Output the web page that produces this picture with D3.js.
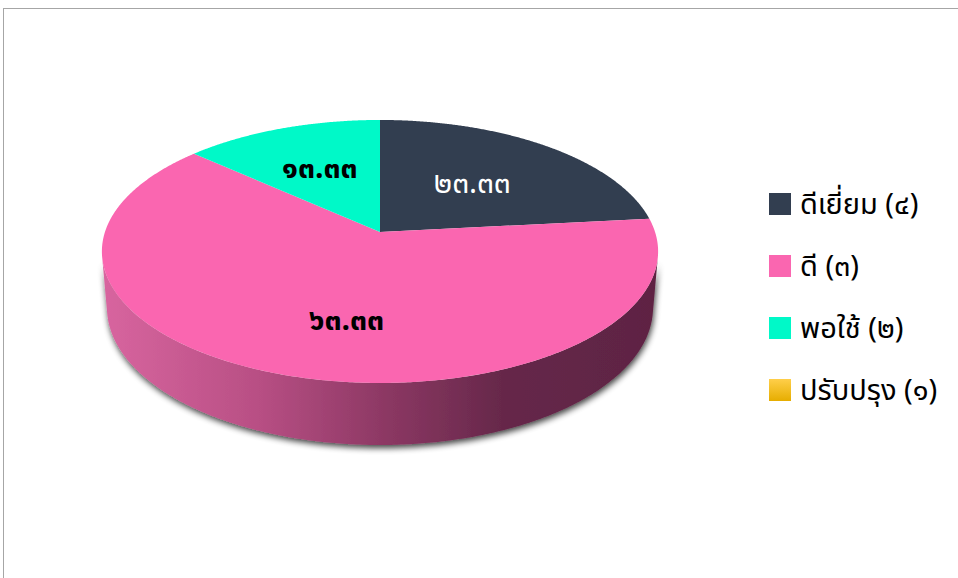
<!DOCTYPE html>
<html>
<head>
<meta charset="utf-8">
<script src="https://cdn.jsdelivr.net/npm/d3@7"></script>
<style>
  html, body { margin: 0; padding: 0; background: #ffffff; }
  svg { display: block; }
</style>
</head>
<body>
<div id="chart"></div>
<script>
// Rating categories (score in parentheses) and their share in percent
const categories = ["ดีเยี่ยม (๔)", "ดี (๓)", "พอใช้ (๒)", "ปรับปรุง (๑)"];
const values = [23.33, 63.33, 13.33, 0];
const colors = ["#323e50", "#fa66b0", "#00f9c8", "#ffc000"];
const labelColors = ["#ffffff", "#000000", "#000000", "#000000"];
const labelWeights = ["normal", "bold", "bold", "bold"];

const W = 958, H = 578;
const thaiDigits = "๐๑๒๓๔๕๖๗๘๙";
const toThai = s => s.replace(/[0-9]/g, d => thaiDigits[+d]);
const fmt = d3.format(".2f");
const FONT = "'Noto Sans Thai', 'Noto Sans', Tahoma, sans-serif";

const svg = d3.select("#chart").append("svg")
  .attr("width", W).attr("height", H);

// Chart frame
svg.append("rect")
  .attr("x", 3.5).attr("y", 8.5)
  .attr("width", W).attr("height", H)
  .attr("fill", "#ffffff")
  .attr("stroke", "#a6a6a6").attr("stroke-width", 1);

const defs = svg.append("defs");

// Perspective camera looking down at a unit-radius disc
const cam = { cx: 380, cy: 232, phi: Math.asin(0.4676), D: 5.97, f: 1642, h: 0.2334 };
const sinP = Math.sin(cam.phi), cosP = Math.cos(cam.phi);
function project(u, y, v) {
  const z = cam.D - y * sinP - v * cosP;
  return [cam.cx + cam.f * u / z, cam.cy + cam.f * (v * sinP - y * cosP) / z];
}
// angle measured clockwise from 12 o'clock; v grows toward the viewer
const rim = (a, r, y) => project(r * Math.sin(a), y, -r * Math.cos(a));

const pie = d3.pie().sort(null).value(d => d).startAngle(0).endAngle(2 * Math.PI);
const arcs = pie(values);
const line = d3.line();

function samples(a0, a1, step) {
  const n = Math.max(1, Math.ceil(Math.abs(a1 - a0) / step));
  return d3.range(n + 1).map(i => a0 + (a1 - a0) * i / n);
}

// Drop shadow under the cylinder wall
const sh = defs.append("filter").attr("id", "wallShadow")
  .attr("x", "-10%").attr("y", "-10%").attr("width", "120%").attr("height", "130%");
sh.append("feGaussianBlur").attr("in", "SourceAlpha").attr("stdDeviation", 3).attr("result", "b");
sh.append("feOffset").attr("in", "b").attr("dx", 1).attr("dy", 3).attr("result", "o");
sh.append("feComponentTransfer").attr("in", "o").attr("result", "s")
  .append("feFuncA").attr("type", "linear").attr("slope", 0.75);
const m = sh.append("feMerge");
m.append("feMergeNode").attr("in", "s");
m.append("feMergeNode").attr("in", "SourceGraphic");

// Shaded wall colour for the slice facing the viewer
const wallGrad = defs.append("linearGradient").attr("id", "wallGrad")
  .attr("gradientUnits", "userSpaceOnUse")
  .attr("x1", 103).attr("x2", 658).attr("y1", 0).attr("y2", 0);
[[0, "#d8659f"], [0.28, "#b84f84"], [0.52, "#8a3762"], [0.72, "#66284a"], [1, "#5e2343"]]
  .forEach(([o, c]) => wallGrad.append("stop").attr("offset", o).attr("stop-color", c));

// Visible part of the outer wall lies between the two silhouette generators
const aSil = Math.acos(-1 / (cam.D * cosP));
const wallLo = aSil, wallHi = 2 * Math.PI - aSil;
const wallG = svg.append("g").attr("filter", "url(#wallShadow)");
arcs.forEach((d, i) => {
  const a0 = Math.max(d.startAngle, wallLo), a1 = Math.min(d.endAngle, wallHi);
  if (a1 <= a0) return;
  const top = samples(a0, a1, 0.01).map(a => rim(a, 1, 0));
  const bot = samples(a1, a0, 0.01).map(a => rim(a, 1, -cam.h));
  wallG.append("path")
    .attr("d", line(top.concat(bot)) + "Z")
    .attr("fill", i === 1 ? "url(#wallGrad)" : colors[i]);
});

// Top face slices
const topG = svg.append("g");
arcs.forEach((d, i) => {
  if (d.endAngle - d.startAngle <= 0) return;
  const pts = [project(0, 0, 0)].concat(samples(d.startAngle, d.endAngle, 0.005).map(a => rim(a, 1, 0)));
  topG.append("path")
    .attr("d", line(pts) + "Z")
    .attr("fill", colors[i]);
});

// Value labels placed inside each slice
const labelPlace = [{ r: 0.53, da: 0 }, { r: 0.64, da: -8 }, { r: 0.58, da: 0 }, { r: 0.6, da: 0 }];
arcs.forEach((d, i) => {
  if (d.value <= 0) return;
  const mid = (d.startAngle + d.endAngle) / 2 + labelPlace[i].da * Math.PI / 180;
  const [x, y] = rim(mid, labelPlace[i].r, 0);
  svg.append("text")
    .attr("x", x).attr("y", y).attr("dy", "0.3em")
    .attr("text-anchor", "middle")
    .attr("font-family", FONT)
    .attr("font-size", 30).attr("font-weight", labelWeights[i])
    .attr("fill", labelColors[i])
    .text(toThai(fmt(d.value)));
});

// Legend
const yellowGrad = defs.append("linearGradient").attr("id", "yellowGrad")
  .attr("x1", 0).attr("x2", 0).attr("y1", 0).attr("y2", 1);
yellowGrad.append("stop").attr("offset", 0).attr("stop-color", "#ffcf4a");
yellowGrad.append("stop").attr("offset", 1).attr("stop-color", "#e6ad00");

const ly = d3.scalePoint().domain(categories).range([204, 390]);
const legend = svg.append("g");
categories.forEach((c, i) => {
  legend.append("rect")
    .attr("x", 769).attr("y", ly(c) - 11)
    .attr("width", 22).attr("height", 22)
    .attr("fill", i === 3 ? "url(#yellowGrad)" : colors[i]);
  legend.append("text")
    .attr("x", 800).attr("y", ly(c)).attr("dy", "0.35em")
    .attr("font-family", FONT)
    .attr("font-size", 29).attr("fill", "#000000")
    .text(c);
});
</script>
</body>
</html>
